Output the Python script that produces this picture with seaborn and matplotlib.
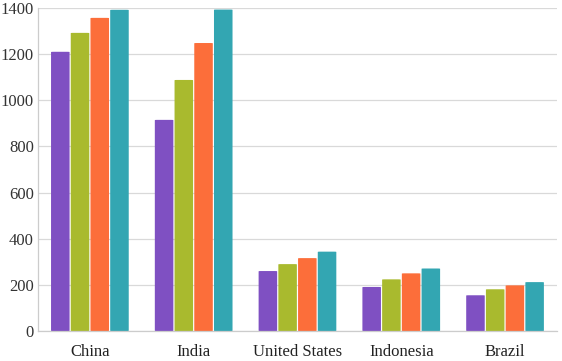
import matplotlib
matplotlib.use("Agg")
import matplotlib.pyplot as plt
from matplotlib.patches import FancyBboxPatch
import seaborn as sns
import pandas as pd

countries = ["China", "India", "United States", "Indonesia", "Brazil"]
series = ["1990", "2000", "2010", "2020"]
v1990 = [1210, 915, 260, 191, 155]
v2000 = [1292, 1088, 290, 224, 181]
v2010 = [1357, 1248, 316, 250, 198]
v2020 = [1392, 1393, 344, 271, 212]
colors = ["#7F50C2", "#A9BA2E", "#FC6E3A", "#33A6B2"]

rows = []
for s, vals in zip(series, [v1990, v2000, v2010, v2020]):
    for c, v in zip(countries, vals):
        rows.append({"country": c, "series": s, "value": v})
df = pd.DataFrame(rows)

sns.set_style("white")
plt.rcParams["font.family"] = ["Liberation Serif", "DejaVu Serif"]

fig = plt.figure(figsize=(5.62, 3.61), dpi=100)
ax = fig.add_axes([0.0676, 0.083, 0.9234, 0.895])
sns.barplot(data=df, x="country", y="value", hue="series", palette=colors,
            width=0.76, gap=0.06, ax=ax, legend=False, saturation=1)

# round top corners
for p in list(ax.patches):
    x, y = p.get_x(), p.get_y()
    w, h = p.get_width(), p.get_height()
    fc = p.get_facecolor()
    p.remove()
    fb = FancyBboxPatch((x, y), w, h, boxstyle="round,pad=0,rounding_size=0.02",
                        mutation_aspect=60, facecolor=fc,
                        edgecolor="none", linewidth=0)
    ax.add_patch(fb)

ax.set_ylim(0, 1400)
ax.set_xlim(-0.5, 4.5)
ax.set_yticks(range(0, 1401, 200))
ax.yaxis.grid(True, color="#D9D9D9", linewidth=0.9)
ax.set_axisbelow(True)
ax.set_xlabel("")
ax.set_ylabel("")
for side in ["top", "right"]:
    ax.spines[side].set_visible(False)
for side in ["left", "bottom"]:
    ax.spines[side].set_color("#CCCCCC")
    ax.spines[side].set_linewidth(0.9)

ax.set_xticks([i - 0.5 for i in range(6)], minor=True)
ax.tick_params(axis="x", which="minor", length=5, color="#CCCCCC", width=0.9, direction="out")
ax.tick_params(axis="x", which="major", length=0, labelsize=12, colors="#222222", pad=9)
ax.tick_params(axis="y", length=0, labelsize=12, colors="#333333", pad=3)

fig.savefig("out.png", dpi=100)
